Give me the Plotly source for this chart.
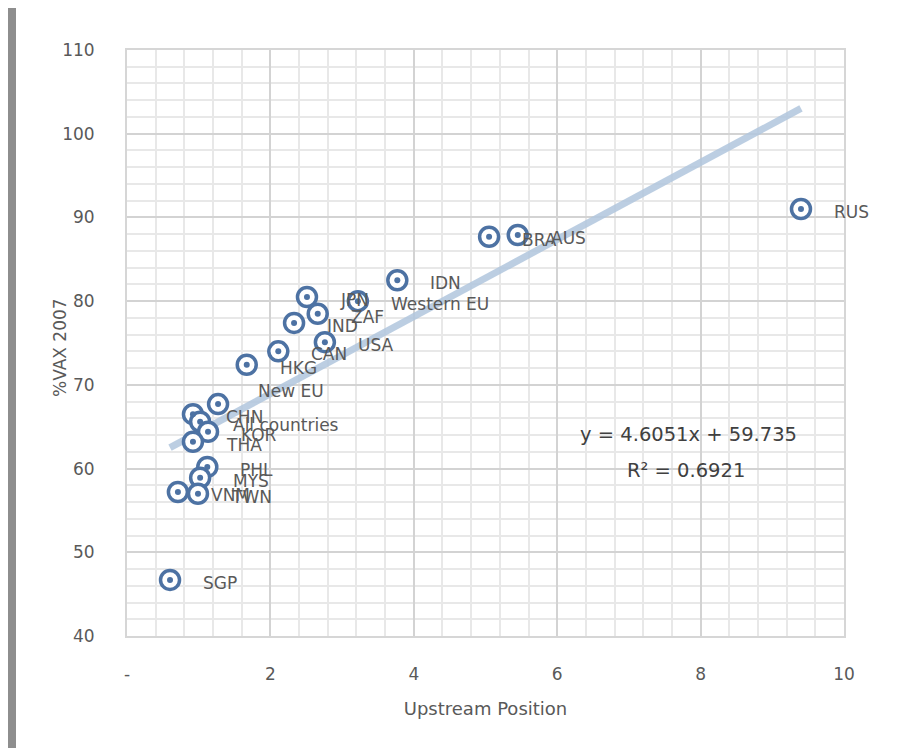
import plotly.graph_objects as go

# ---- data ----
countries = ["RUS", "AUS", "BRA", "IDN", "Western EU", "JPN", "ZAF", "IND", "USA",
             "CAN", "HKG", "New EU", "CHN", "All countries", "KOR", "THA", "PHL",
             "MYS", "VNM", "TWN", "SGP"]
upstream = [9.40, 5.45, 5.05, 3.77, 3.22, 2.51, 2.66, 2.33, 2.76,
            2.11, 1.67, 1.27, 0.92, 1.02, 1.13, 0.92, 1.12,
            1.02, 0.71, 0.99, 0.60]
vax2007 = [91.0, 87.9, 87.7, 82.5, 80.0, 80.5, 78.5, 77.4, 75.1,
           74.0, 72.4, 67.7, 66.5, 65.6, 64.4, 63.2, 60.2,
           58.9, 57.2, 57.0, 46.7]
trend_slope = 4.6051
trend_intercept = 59.735
r_squared = 0.6921
x_ticks = [0, 2, 4, 6, 8, 10]
x_tick_text = ["-", "2", "4", "6", "8", "10"]
y_ticks = [40, 50, 60, 70, 80, 90, 100, 110]

# label offsets (pixels) for labels moved away from default place
label_shift = {"New EU": (38, 13)}

marker_blue = "#4d72a3"
text_col = "#595959"
font_fam = "DejaVu Sans, sans-serif"

# figure geometry (page body adds an 8px offset)
W, H = 906, 740
L, R, T, B = 119, 70, 42, 112
PW, PH = W - L - R, H - T - B


def px_to_paper(px, py):
    return (px - L) / PW, (H - B - py) / PH


fig = go.Figure()

# trendline
xmin, xmax = min(upstream), max(upstream)
fig.add_trace(go.Scatter(
    x=[xmin, xmax],
    y=[trend_slope * xmin + trend_intercept, trend_slope * xmax + trend_intercept],
    mode="lines", line=dict(color="rgba(176,197,221,0.85)", width=7),
    hoverinfo="skip", showlegend=False))

fig.add_trace(go.Scatter(
    x=upstream, y=vax2007, mode="markers",
    marker=dict(symbol="circle", size=19, color="white",
                line=dict(color=marker_blue, width=3.5)),
    showlegend=False))
fig.add_trace(go.Scatter(
    x=upstream, y=vax2007, mode="markers",
    marker=dict(symbol="circle", size=6, color=marker_blue, line=dict(width=0)),
    hoverinfo="skip", showlegend=False))

annotations = []
for name, xv, yv in zip(countries, upstream, vax2007):
    dx, dy = label_shift.get(name, (31, -3))
    annotations.append(dict(x=xv, y=yv, text=name, showarrow=False,
                            xanchor="left", yanchor="middle",
                            xshift=dx, yshift=dy,
                            font=dict(family=font_fam, size=17, color=text_col)))

ex, ey = px_to_paper(680, 426)
annotations.append(dict(xref="paper", yref="paper", x=ex, y=ey, xanchor="center", yanchor="middle",
                        text=f"y = {trend_slope}x + {trend_intercept}", showarrow=False,
                        font=dict(family=font_fam, size=19.5, color="#404040")))
rx, ry = px_to_paper(678, 463)
annotations.append(dict(xref="paper", yref="paper", x=rx, y=ry, xanchor="center", yanchor="middle",
                        text=f"R² = {r_squared}", showarrow=False,
                        font=dict(family=font_fam, size=19.5, color="#404040")))

# y-axis title placed next to the tick labels
tx, ty = px_to_paper(52, 340)
annotations.append(dict(xref="paper", yref="paper", x=tx, y=ty, xanchor="center", yanchor="middle",
                        text="%VAX 2007", textangle=-90, showarrow=False,
                        font=dict(family=font_fam, size=17, color=text_col)))

x0, y1 = px_to_paper(8, -1)
x1, y0 = px_to_paper(901, 800)
shapes = [
    dict(type="rect", xref="paper", yref="paper", x0=x0, x1=x1, y0=y0, y1=y1,
         fillcolor="white", line=dict(width=0), layer="below"),
]

fig.update_layout(
    width=W, height=H,
    margin=dict(l=L, r=R, t=T, b=B),
    paper_bgcolor="#8e8e8e", plot_bgcolor="white",
    shapes=shapes, annotations=annotations,
    font=dict(family=font_fam, color=text_col),
)

fig.update_xaxes(
    range=[0, 10], tickvals=x_ticks, ticktext=x_tick_text,
    showgrid=True, gridcolor="#d3d3d3", gridwidth=2,
    minor=dict(dtick=0.4, tick0=0, showgrid=True, gridcolor="#e8e8e8", gridwidth=1.5),
    zeroline=False, showline=True, linecolor="#d6d6d6", linewidth=2, mirror=True,
    ticks="", ticklabelstandoff=22, tickfont=dict(size=17, color=text_col),
    title=dict(text="Upstream Position", font=dict(size=18, color=text_col), standoff=19),
)
fig.update_yaxes(
    range=[40, 110], tickvals=y_ticks,
    showgrid=True, gridcolor="#d3d3d3", gridwidth=2,
    minor=dict(dtick=2, tick0=40, showgrid=True, gridcolor="#e8e8e8", gridwidth=1.5),
    zeroline=False, showline=True, linecolor="#d6d6d6", linewidth=2, mirror=True,
    ticks="", ticklabelstandoff=27, tickfont=dict(size=17, color=text_col),
)

fig.write_html("out.html")
